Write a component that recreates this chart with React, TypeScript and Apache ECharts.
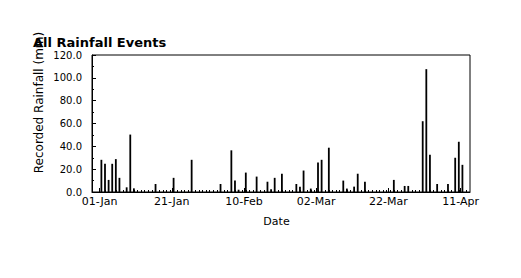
import React, { useEffect, useRef } from "react";
import * as echarts from "echarts";

// Day offsets from 01-Jan and recorded rainfall (mm) for each event
const eventDay = [0, 1, 2, 3, 4, 5, 7, 8, 9, 15, 20, 25, 33, 36, 37, 38, 40, 43, 46, 47, 48, 50, 54, 55, 56, 58, 60, 61, 63, 67, 68, 70, 71, 73, 81, 84, 85, 89, 90, 91, 93, 96, 98, 99, 100];
const eventRainfall = [28.2, 24.7, 10.6, 24.7, 28.8, 12.4, 4.1, 50.3, 3.2, 7.0, 12.4, 28.2, 7.0, 36.5, 10.0, 2.0, 17.0, 13.5, 9.0, 2.3, 12.4, 16.0, 7.0, 4.7, 18.8, 3.0, 25.9, 28.2, 38.8, 10.0, 3.0, 4.7, 16.0, 9.0, 10.6, 5.3, 5.3, 62.0, 107.6, 32.6, 7.0, 7.0, 30.0, 44.0, 23.8];

// X tick positions (days from 01-Jan) and labels
const tickDays = [0, 20, 40, 60, 80, 100];
const tickLabels = ["01-Jan", "21-Jan", "10-Feb", "02-Mar", "22-Mar", "11-Apr"];
const recordedDays = 102;

const FONT = "DejaVu Sans";

export default function App() {
  const ref = useRef<HTMLDivElement>(null);
  useEffect(() => {
    document.body.style.margin = "0";
    const chart = echarts.init(ref.current!, null, { renderer: "svg" });
    const dailyTicks: number[] = [];
    for (let d = 0; d < recordedDays; d++) dailyTicks.push(d + 0.5);
    const xMin = -2.1;
    const xMax = 102.6;
    chart.setOption({
      animation: false,
      backgroundColor: "#fff",
      grid: {
        left: 92,
        right: 51,
        top: 55,
        bottom: 86,
        show: true,
        borderColor: "#000",
        borderWidth: 1,
      },
      xAxis: [
        {
          type: "value",
          min: xMin,
          max: xMax,
          axisLine: { show: true, onZero: false, lineStyle: { color: "#000", width: 1 } },
          axisTick: {
            show: true,
            inside: true,
            length: 4,
            customValues: tickDays,
            lineStyle: { color: "#000" },
          },
          axisLabel: {
            show: true,
            customValues: tickDays,
            margin: 4,
            color: "#000",
            fontFamily: FONT,
            fontSize: 11,
            formatter: (v: number) => {
              const i = tickDays.indexOf(Math.round(v));
              return i >= 0 ? tickLabels[i] : "";
            },
          },
          splitLine: { show: false },
        },
        {
          type: "value",
          min: xMin,
          max: xMax,
          position: "bottom",
          axisLine: { show: false, onZero: false },
          axisTick: {
            show: true,
            inside: true,
            length: 2,
            customValues: dailyTicks,
            lineStyle: { color: "#000" },
          },
          axisLabel: { show: false },
          splitLine: { show: false },
        },
      ],
      yAxis: {
        type: "value",
        min: 0,
        max: 120,
        interval: 20,
        axisLine: { show: true, onZero: false, lineStyle: { color: "#000", width: 1 } },
        axisTick: { show: true, inside: true, length: 4, lineStyle: { color: "#000" } },
        minorTick: { show: true, splitNumber: 2, length: 2, lineStyle: { color: "#000" } },
        axisLabel: {
          margin: 10,
          color: "#000",
          fontFamily: FONT,
          fontSize: 10,
          formatter: (v: number) => v.toFixed(1),
        },
        splitLine: { show: false },
      },
      series: [
        {
          type: "bar",
          xAxisIndex: 0,
          barWidth: 1.8,
          itemStyle: { color: "#000" },
          data: eventDay.map((d, i) => [d + 0.5, eventRainfall[i]]),
        },
      ],
      graphic: [
        {
          type: "text",
          x: 33,
          y: 42.5,
          style: {
            text: "All Rainfall Events",
            fill: "#000",
            font: `bold 13px "${FONT}"`,
            align: "left",
            verticalAlign: "middle",
          },
          z: 10,
        },
        {
          type: "text",
          x: 38.5,
          y: 102.5,
          rotation: Math.PI / 2,
          style: {
            text: "Recorded Rainfall (mm)",
            fill: "#000",
            font: `12px "${FONT}"`,
            align: "center",
            verticalAlign: "middle",
          },
          z: 9,
        },
        {
          type: "text",
          x: 276.5,
          y: 221.5,
          style: {
            text: "Date",
            fill: "#000",
            font: `11px "${FONT}"`,
            align: "center",
            verticalAlign: "middle",
          },
        },
      ],
    });
    return () => chart.dispose();
  }, []);
  return <div ref={ref} style={{ width: 521, height: 278 }} />;
}
